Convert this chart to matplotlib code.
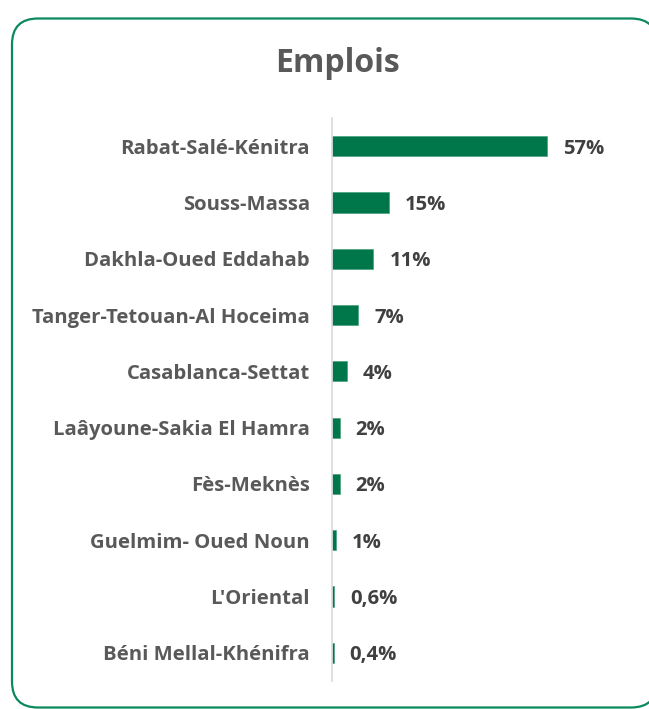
import matplotlib.pyplot as plt
from matplotlib.patches import FancyBboxPatch

plt.rcParams['font.family'] = ['Open Sans', 'DejaVu Sans']

regions = ["Rabat-Salé-Kénitra", "Souss-Massa", "Dakhla-Oued Eddahab",
           "Tanger-Tetouan-Al Hoceima", "Casablanca-Settat",
           "Laâyoune-Sakia El Hamra", "Fès-Meknès", "Guelmim- Oued Noun",
           "L'Oriental", "Béni Mellal-Khénifra"]
values = [57, 15, 11, 7, 4, 2, 2, 1, 0.6, 0.4]
value_labels = ["57%", "15%", "11%", "7%", "4%", "2%", "2%", "1%", "0,6%", "0,4%"]

W, H = 649, 709
fig = plt.figure(figsize=(W / 100, H / 100), dpi=100)

# fond + cadre arrondi (en pixels)
bg = fig.add_axes([0, 0, 1, 1])
bg.set_xlim(0, W)
bg.set_ylim(H, 0)
bg.axis('off')
cadre = FancyBboxPatch((12, 18.5), 645, 689, boxstyle="round,pad=0,rounding_size=26",
                       fc='white', ec='#0a8a5c', lw=1.6)
bg.add_patch(cadre)
bg.text(337, 63, "Emplois", ha='center', va='center', fontsize=23,
        fontweight='bold', color='#595959')

# graphique
ax = fig.add_axes([332 / W, (H - 681) / H, 288 / W, 563 / H])
ax.patch.set_alpha(0)
pos = list(range(len(regions)))
ax.barh(pos, values, height=0.36, color='#00774a', edgecolor='#3a9a76', linewidth=0.4)
ax.set_xlim(0, 288 / 3.77)
ax.set_ylim(len(regions) - 0.5, -0.5)
ax.set_yticks(pos)
ax.set_yticklabels(regions, fontsize=14.6, fontweight='bold', color='#595959')
ax.tick_params(axis='y', length=0, pad=16)
ax.set_xticks([])
for s in ['top', 'right', 'bottom']:
    ax.spines[s].set_visible(False)
ax.spines['left'].set_color('#d9d9d9')
ax.spines['left'].set_linewidth(1.2)

for p, v, lab in zip(pos, values, value_labels):
    ax.annotate(lab, (v, p), xytext=(11.5, 0), textcoords='offset points',
                ha='left', va='center_baseline', fontsize=14.6, fontweight='bold',
                color='#404040')

fig.savefig('out.png', dpi=100)
